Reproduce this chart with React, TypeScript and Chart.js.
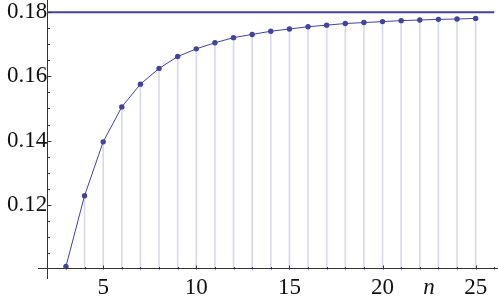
import React, { useEffect, useRef } from "react";
import { Chart, registerables } from "chart.js";

Chart.register(...registerables);

// ---- data ----
const nValues = [3, 4, 5, 6, 7, 8, 9, 10, 11, 12, 13, 14, 15, 16, 17, 18, 19, 20, 21, 22, 23, 24, 25];
const seqValues = [
  0.1007, 0.1228, 0.1396, 0.1505, 0.1576, 0.1625, 0.1662, 0.1686, 0.1705, 0.1721, 0.1731, 0.1741,
  0.1748, 0.1755, 0.176, 0.1765, 0.1768, 0.1771, 0.1774, 0.1776, 0.1778, 0.1779, 0.1781,
];
const limitValue = 0.18;
const limitXs = [2, 26];
const xTickValues = [5, 10, 15, 20, 25];
const xMinorStep = 1;
const xAxisLabel = "n";
const xAxisLabelAt = 22.5;
const yTickValues = [0.12, 0.14, 0.16, 0.18];
const yMinorStep = 0.005;
const axesOrigin = { x: 2, y: 0.1 };

const LINE_COLOR = "rgb(66, 66, 160)";
const DROP_COLOR = "rgba(66, 66, 160, 0.2)";
const AXIS_COLOR = "#333";
const FONT_FAMILY = "'Liberation Serif', serif";
const FONT_SIZE = 23;

const zeroPadding = (scale: any) => {
  scale.paddingTop = 0;
  scale.paddingBottom = 0;
  scale.paddingLeft = 0;
  scale.paddingRight = 0;
};

const tickMarksPlugin = {
  id: "tickMarks",
  afterDraw(chart: any) {
    const { ctx, scales } = chart;
    const xs = scales.x;
    const ys = scales.y;
    const x0 = Math.round(xs.getPixelForValue(axesOrigin.x)) + 0.5;
    const y0 = Math.round(ys.getPixelForValue(axesOrigin.y)) + 0.5;
    ctx.save();
    ctx.strokeStyle = AXIS_COLOR;
    ctx.lineWidth = 1;
    ctx.beginPath();
    for (let v = axesOrigin.y; v <= ys.max + 1e-9; v += yMinorStep) {
      const vv = Math.round(v * 1000) / 1000;
      if (Math.abs(vv - axesOrigin.y) < 1e-9) continue;
      const major = yTickValues.some((t) => Math.abs(t - vv) < 1e-9);
      const py = Math.round(ys.getPixelForValue(vv)) + 0.5;
      ctx.moveTo(x0, py);
      ctx.lineTo(x0 + (major ? 4 : 2.5), py);
    }
    for (let v = axesOrigin.x + xMinorStep; v <= xs.max + 1e-9; v += xMinorStep) {
      const major = xTickValues.includes(v);
      const px = Math.round(xs.getPixelForValue(v)) + 0.5;
      ctx.moveTo(px, y0);
      ctx.lineTo(px, y0 - (major ? 4 : 2.5));
    }
    ctx.stroke();
    ctx.restore();
  },
};

export default function App() {
  const canvasRef = useRef<HTMLCanvasElement | null>(null);

  useEffect(() => {
    const canvas = canvasRef.current;
    if (!canvas) return;
    let chart: Chart | null = null;
    let cancelled = false;

    const build = () => {
      if (cancelled) return;
      const points = nValues.map((n, i) => ({ x: n, y: seqValues[i] }));
      chart = new Chart(canvas, {
        type: "line",
        data: {
          datasets: [
            {
              type: "line",
              data: points,
              borderColor: LINE_COLOR,
              backgroundColor: LINE_COLOR,
              borderWidth: 1,
              pointRadius: 2.7,
              pointBorderWidth: 0,
              pointBackgroundColor: LINE_COLOR,
              tension: 0,
              order: 1,
            },
            {
              type: "line",
              data: limitXs.map((x) => ({ x, y: limitValue })),
              borderColor: LINE_COLOR,
              borderWidth: 2,
              pointRadius: 0,
              order: 2,
            },
            {
              type: "bar",
              data: points,
              base: axesOrigin.y,
              backgroundColor: DROP_COLOR,
              borderWidth: 0,
              barThickness: 1,
              grouped: false,
              order: 3,
            } as any,
          ],
        },
        options: {
          animation: false,
          responsive: false,
          devicePixelRatio: 1,
          layout: { autoPadding: false, padding: { left: 38, right: 0, top: 0, bottom: 20 } },
          plugins: { legend: { display: false }, tooltip: { enabled: false } },
          scales: {
            x: {
              type: "linear",
              position: { y: axesOrigin.y } as any,
              min: 1.5,
              max: 26.2,
              offset: false,
              afterFit: zeroPadding,
              afterBuildTicks: (scale: any) => {
                scale.ticks = [...xTickValues, xAxisLabelAt]
                  .sort((a, b) => a - b)
                  .map((v) => ({ value: v }));
              },
              ticks: {
                autoSkip: false,
                maxRotation: 0,
                padding: 5,
                color: "#111",
                callback: (v: any) => (v === xAxisLabelAt ? xAxisLabel : String(v)),
                font: (ctx: any) =>
                  ctx.tick && ctx.tick.value === xAxisLabelAt
                    ? { family: FONT_FAMILY, size: FONT_SIZE, style: "italic" }
                    : { family: FONT_FAMILY, size: FONT_SIZE },
              },
              grid: { display: true, drawOnChartArea: false, drawTicks: false, color: "rgba(0,0,0,0)" },
              border: { display: true, color: AXIS_COLOR, width: 1 },
            },
            y: {
              type: "linear",
              position: { x: axesOrigin.x } as any,
              min: 0.09713,
              max: 0.18384,
              afterFit: zeroPadding,
              afterBuildTicks: (scale: any) => {
                scale.ticks = yTickValues.map((v) => ({ value: v }));
              },
              ticks: {
                autoSkip: false,
                padding: 5,
                color: "#111",
                callback: (v: any) => Number(v).toFixed(2),
                font: { family: FONT_FAMILY, size: FONT_SIZE },
              },
              grid: { display: true, drawOnChartArea: false, drawTicks: false, color: "rgba(0,0,0,0)" },
              border: { display: true, color: AXIS_COLOR, width: 1 },
            },
          },
        },
        plugins: [tickMarksPlugin],
      });
    };

    const fonts: any = (document as any).fonts;
    if (fonts && fonts.load) {
      Promise.all([
        fonts.load(`${FONT_SIZE}px 'Liberation Serif'`),
        fonts.load(`italic ${FONT_SIZE}px 'Liberation Serif'`),
      ])
        .catch(() => undefined)
        .then(build);
    } else {
      build();
    }

    return () => {
      cancelled = true;
      if (chart) chart.destroy();
    };
  }, []);

  return (
    <div style={{ position: "absolute", left: 0, top: 0, width: 498, height: 298, background: "#fff" }}>
      <canvas ref={canvasRef} width={498} height={298} />
    </div>
  );
}
